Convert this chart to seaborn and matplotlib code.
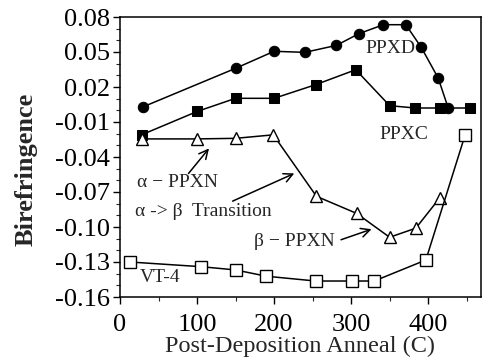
import matplotlib
matplotlib.use("Agg")
import matplotlib.pyplot as plt
import seaborn as sns
import numpy as np
from matplotlib.ticker import MultipleLocator, FormatStrFormatter

# ---- data ----
ppxd_x = [30, 150, 200, 240, 281, 310, 342, 371, 391, 413, 426]
ppxd_y = [0.003, 0.036, 0.0506, 0.0497, 0.0557, 0.0657, 0.0734, 0.0734, 0.054, 0.0277, 0.002]

ppxc_x = [28, 100, 150, 200, 254, 306, 350, 383, 415, 454]
ppxc_y = [-0.021, -0.001, 0.0103, 0.0103, 0.022, 0.0348, 0.004, 0.002, 0.002, 0.002]

ppxn_x = [28, 100, 150, 199, 255, 307, 350, 384, 415]
ppxn_y = [-0.0245, -0.0245, -0.024, -0.021, -0.0737, -0.0883, -0.1088, -0.101, -0.0751]

vt4_x = [13, 105, 150, 190, 254, 301, 330, 397, 448]
vt4_y = [-0.130, -0.134, -0.1368, -0.1422, -0.1463, -0.1463, -0.1463, -0.1283, -0.021]

x_label = "Post-Deposition Anneal (C)"
y_label = "Birefringence"

# ---- style ----
sns.set_style("ticks")
plt.rcParams['font.family'] = ['Liberation Serif', 'DejaVu Serif']
plt.rcParams['axes.unicode_minus'] = False

fig = plt.figure(figsize=(4.82, 3.60), dpi=100)
ax = fig.add_axes([120/482, 1 - 297/360, 1 - 120/482 - 0.003, (297 - 17)/360])

lw = 1.1
sns.lineplot(x=ppxd_x, y=ppxd_y, ax=ax, color='black', lw=lw, marker='o',
             markersize=7.5, markerfacecolor='black', markeredgecolor='black', sort=False)
sns.lineplot(x=ppxc_x, y=ppxc_y, ax=ax, color='black', lw=lw, marker='s',
             markersize=7, markerfacecolor='black', markeredgecolor='black', sort=False)
sns.lineplot(x=ppxn_x, y=ppxn_y, ax=ax, color='black', lw=lw, marker='^',
             markersize=9, markerfacecolor='white', markeredgecolor='black',
             markeredgewidth=1.0, sort=False)
sns.lineplot(x=vt4_x, y=vt4_y, ax=ax, color='black', lw=lw, marker='s',
             markersize=8, markerfacecolor='white', markeredgecolor='black',
             markeredgewidth=1.0, sort=False)

ax.set_xlim(0, 468)
ax.set_ylim(-0.16, 0.08)
ax.xaxis.set_major_locator(MultipleLocator(100))
ax.xaxis.set_minor_locator(MultipleLocator(50))
ax.yaxis.set_minor_locator(MultipleLocator(0.01))
ax.yaxis.set_major_formatter(FormatStrFormatter('%.2f'))
ax.set_yticks(np.round(np.arange(-0.16, 0.0801, 0.03), 2))

ax.tick_params(which='major', direction='out', length=5, width=1, labelsize=19, colors='black')
ax.tick_params(which='minor', direction='out', length=3, width=0.8)
ax.tick_params(axis='x', pad=7)
ax.tick_params(axis='y', pad=2)
for s in ax.spines.values():
    s.set_linewidth(1.1)
    s.set_color('black')

ax.set_xlabel(x_label, fontsize=17.5, labelpad=0)
ax.set_ylabel(y_label, fontsize=19, fontweight='bold')
ax.yaxis.set_label_coords(-0.228, 0.457)

fs = 14
ax.text(350.6, 0.0526, "PPXD", fontsize=fs, ha='center', va='center')
ax.text(368.8, -0.0203, "PPXC", fontsize=fs, ha='center', va='center')
ax.text(74.7, -0.0617, "α − PPXN", fontsize=fs, ha='center', va='center')
ax.text(107.8, -0.0871, "α -> β  Transition", fontsize=fs, ha='center', va='center')
ax.text(226.6, -0.112, "β − PPXN", fontsize=fs, ha='center', va='center')
ax.text(52, -0.1437, "VT-4", fontsize=fs, ha='center', va='center')

arrow = dict(arrowstyle='->', color='black', lw=1.1, mutation_scale=16)
ax.annotate("", xy=(117.8, -0.0308), xytext=(86.6, -0.056), arrowprops=arrow)
ax.annotate("", xy=(229.5, -0.0531), xytext=(142.9, -0.0788), arrowprops=arrow)
ax.annotate("", xy=(329.9, -0.1011), xytext=(283.5, -0.1117), arrowprops=arrow)

fig.savefig("out.png", dpi=100)
